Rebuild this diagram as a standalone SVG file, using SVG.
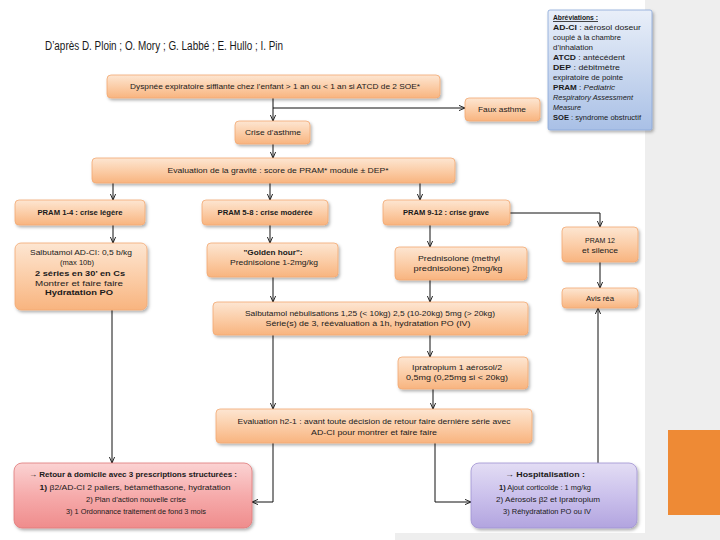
<svg xmlns="http://www.w3.org/2000/svg" width="720" height="540" viewBox="0 0 720 540">
<defs>
<linearGradient id="gO" x1="0" y1="0" x2="0" y2="1"><stop offset="0" stop-color="#fde6d2"/><stop offset="0.55" stop-color="#fbcba4"/><stop offset="1" stop-color="#f8b47f"/></linearGradient>
<linearGradient id="gR" x1="0" y1="0" x2="0" y2="1"><stop offset="0" stop-color="#fbd3d3"/><stop offset="0.5" stop-color="#f6abab"/><stop offset="1" stop-color="#ef8c8c"/></linearGradient>
<linearGradient id="gP" x1="0" y1="0" x2="0" y2="1"><stop offset="0" stop-color="#e3ddf4"/><stop offset="0.5" stop-color="#cbc1ec"/><stop offset="1" stop-color="#b2a4df"/></linearGradient>
<linearGradient id="gB" x1="0" y1="0" x2="0" y2="1"><stop offset="0" stop-color="#e9eff9"/><stop offset="0.5" stop-color="#cad8ef"/><stop offset="1" stop-color="#a9c0e6"/></linearGradient>
<filter id="sh" x="-10%" y="-20%" width="130%" height="150%"><feDropShadow dx="1.5" dy="2" stdDeviation="1.5" flood-color="#000" flood-opacity="0.3"/></filter>
<marker id="ar" viewBox="0 0 6 6" refX="6" refY="3" markerWidth="6" markerHeight="6" markerUnits="userSpaceOnUse" orient="auto"><path d="M0,0.4 L6,3 L0,5.6" fill="none" stroke="#111" stroke-width="0.9"/></marker>
<style>
.bx{fill:url(#gO);stroke:#f3a872;stroke-width:0.8;filter:url(#sh)}
.bxR{fill:url(#gR);stroke:#e07a7a;stroke-width:0.8;filter:url(#sh)}
.bxP{fill:url(#gP);stroke:#9f92d2;stroke-width:0.8;filter:url(#sh)}
.bxB{fill:url(#gB);stroke:#88a6d8;stroke-width:0.8;filter:url(#sh)}
.t{font-family:"Liberation Sans",Arial,sans-serif;font-size:8px;fill:#1a1a1a;text-anchor:middle}
.a{font-family:"Liberation Sans",Arial,sans-serif;font-size:8px;fill:#1a1a1a}
.b{font-weight:bold}
.c{fill:none;stroke:#111;stroke-width:1;marker-end:url(#ar)}
</style>
</defs>
<rect x="0" y="0" width="720" height="540" fill="#ffffff"/>
<rect x="645" y="0" width="75" height="540" fill="#eeeeee"/>
<rect x="395" y="533" width="250" height="7" fill="#eeeeee"/>
<rect x="668" y="430" width="52" height="85" fill="#ee8a35"/>
<text x="45" y="50" font-family="Liberation Sans,Arial,sans-serif" font-size="12" fill="#1a1a1a" textLength="238" lengthAdjust="spacingAndGlyphs">D’après D. Ploin ; O. Mory ; G. Labbé ; E. Hullo ; I. Pin</text>

<g id="connectors">
<path class="c" d="M273,98 V121"/>
<path class="c" d="M273,108 H465"/>
<path class="c" d="M273,144 V158"/>
<path class="c" d="M113,183 V200"/>
<path class="c" d="M270,183 V200"/>
<path class="c" d="M420,183 V200"/>
<path class="c" d="M510,213 H600 V227"/>
<path class="c" d="M600,262 V288"/>
<path class="c" d="M598,463 V308"/>
<path class="c" d="M113,225 V243"/>
<path class="c" d="M270,225 V243"/>
<path class="c" d="M430,225 V247"/>
<path class="c" d="M273,277 V302"/>
<path class="c" d="M430,280 V302"/>
<path class="c" d="M430,335 V357"/>
<path class="c" d="M273,335 V409"/>
<path class="c" d="M433,389 V409"/>
<path class="c" d="M112,310 V463"/>
<path class="c" d="M273,443 V502 H252"/>
<path class="c" d="M435,443 V502 H471"/>
</g>

<g id="abbrev">
<rect class="bxB" x="548" y="10" width="104" height="120" rx="2"/>
<text class="a" x="553" y="20" textLength="45" lengthAdjust="spacingAndGlyphs" text-decoration="underline"><tspan class="b">Abréviations :</tspan></text>
<text class="a" x="553" y="30" textLength="88" lengthAdjust="spacingAndGlyphs"><tspan class="b">AD-CI</tspan> : aérosol doseur</text>
<text class="a" x="553" y="40" textLength="68" lengthAdjust="spacingAndGlyphs">couplé à la chambre</text>
<text class="a" x="553" y="50" textLength="40" lengthAdjust="spacingAndGlyphs">d’inhalation</text>
<text class="a" x="553" y="60" textLength="72" lengthAdjust="spacingAndGlyphs"><tspan class="b">ATCD</tspan> : antécédent</text>
<text class="a" x="553" y="70" textLength="67" lengthAdjust="spacingAndGlyphs"><tspan class="b">DEP</tspan> : débitmètre</text>
<text class="a" x="553" y="80" textLength="70" lengthAdjust="spacingAndGlyphs">expiratoire de pointe</text>
<text class="a" x="553" y="90" textLength="62" lengthAdjust="spacingAndGlyphs"><tspan class="b">PRAM</tspan> : <tspan font-style="italic">Pediatric</tspan></text>
<text class="a" x="553" y="100" textLength="80" lengthAdjust="spacingAndGlyphs" font-style="italic">Respiratory Assessment</text>
<text class="a" x="553" y="110" textLength="28" lengthAdjust="spacingAndGlyphs" font-style="italic">Measure</text>
<text class="a" x="553" y="120" textLength="88" lengthAdjust="spacingAndGlyphs"><tspan class="b">SOE</tspan> : syndrome obstructif</text>
</g>

<g id="n-dyspnee">
<rect class="bx" x="107" y="75" width="333" height="23" rx="4"/>
<text class="t" x="275" y="89" textLength="290" lengthAdjust="spacingAndGlyphs">Dyspnée expiratoire sifflante chez l’enfant &gt; 1 an ou &lt; 1 an si ATCD de 2 SOE*</text>
</g>
<g id="n-faux">
<rect class="bx" x="465" y="98" width="75" height="23" rx="4"/>
<text class="t" x="502" y="112" textLength="48" lengthAdjust="spacingAndGlyphs">Faux asthme</text>
</g>
<g id="n-crise">
<rect class="bx" x="235" y="121" width="75" height="23" rx="4"/>
<text class="t" x="273" y="135" textLength="56" lengthAdjust="spacingAndGlyphs">Crise d’asthme</text>
</g>
<g id="n-eval">
<rect class="bx" x="92" y="158" width="363" height="25" rx="4"/>
<text class="t" x="278" y="173" textLength="221" lengthAdjust="spacingAndGlyphs">Evaluation de la gravité : score de PRAM* modulé ± DEP*</text>
</g>
<g id="n-pram14">
<rect class="bx" x="15" y="200" width="130" height="25" rx="4"/>
<text class="t b" x="80" y="215" textLength="85" lengthAdjust="spacingAndGlyphs">PRAM 1-4 : crise légère</text>
</g>
<g id="n-pram58">
<rect class="bx" x="202" y="200" width="126" height="25" rx="4"/>
<text class="t b" x="265" y="215" textLength="95" lengthAdjust="spacingAndGlyphs">PRAM 5-8 : crise modérée</text>
</g>
<g id="n-pram912">
<rect class="bx" x="383" y="200" width="127" height="25" rx="4"/>
<text class="t b" x="446" y="215" textLength="86" lengthAdjust="spacingAndGlyphs">PRAM 9-12 : crise grave</text>
</g>
<g id="n-pram12">
<rect class="bx" x="562" y="227" width="76" height="35" rx="4"/>
<text class="t" x="600" y="243" textLength="30" lengthAdjust="spacingAndGlyphs">PRAM 12</text>
<text class="t" x="600" y="253" textLength="36" lengthAdjust="spacingAndGlyphs">et silence</text>
</g>
<g id="n-avis">
<rect class="bx" x="562" y="288" width="76" height="20" rx="4"/>
<text class="t" x="600" y="301" textLength="28" lengthAdjust="spacingAndGlyphs">Avis réa</text>
</g>
<g id="n-salbuadci">
<rect class="bx" x="15" y="243" width="132" height="67" rx="6"/>
<text class="t" x="81" y="255" textLength="102" lengthAdjust="spacingAndGlyphs">Salbutamol AD-CI: 0,5 b/kg</text>
<text class="t" x="77" y="265" textLength="34" lengthAdjust="spacingAndGlyphs">(max 10b)</text>
<text class="t b" x="80" y="276" textLength="90" lengthAdjust="spacingAndGlyphs">2 séries en 30’ en Cs</text>
<text class="t" x="79" y="286" textLength="88" lengthAdjust="spacingAndGlyphs">Montrer et faire faire</text>
<text class="t b" x="79" y="295" textLength="68" lengthAdjust="spacingAndGlyphs">Hydratation PO</text>
</g>
<g id="n-golden">
<rect class="bx" x="207" y="243" width="131" height="34" rx="4"/>
<text class="t b" x="273" y="255" textLength="59" lengthAdjust="spacingAndGlyphs">"Golden hour":</text>
<text class="t" x="274" y="265" textLength="88" lengthAdjust="spacingAndGlyphs">Prednisolone 1-2mg/kg</text>
</g>
<g id="n-predni">
<rect class="bx" x="395" y="247" width="132" height="33" rx="4"/>
<text class="t" x="459" y="261" textLength="82" lengthAdjust="spacingAndGlyphs">Prednisolone (methyl</text>
<text class="t" x="458" y="271" textLength="89" lengthAdjust="spacingAndGlyphs">prednisolone) 2mg/kg</text>
</g>
<g id="n-salbuneb">
<rect class="bx" x="213" y="302" width="315" height="33" rx="4"/>
<text class="t" x="370" y="316" textLength="250" lengthAdjust="spacingAndGlyphs">Salbutamol nébulisations 1,25 (&lt; 10kg) 2,5 (10-20kg) 5mg (&gt; 20kg)</text>
<text class="t" x="368" y="326" textLength="205" lengthAdjust="spacingAndGlyphs">Série(s) de 3, réévaluation à 1h, hydratation PO (IV)</text>
</g>
<g id="n-ipra">
<rect class="bx" x="398" y="357" width="130" height="32" rx="4"/>
<text class="t" x="457" y="370" textLength="90" lengthAdjust="spacingAndGlyphs">Ipratropium 1 aérosol/2</text>
<text class="t" x="457" y="380" textLength="102" lengthAdjust="spacingAndGlyphs">0,5mg (0,25mg si &lt; 20kg)</text>
</g>
<g id="n-eval2">
<rect class="bx" x="216" y="409" width="316" height="34" rx="4"/>
<text class="t" x="374" y="424" textLength="273" lengthAdjust="spacingAndGlyphs">Evaluation h2-1 : avant toute décision de retour faire dernière série avec</text>
<text class="t" x="374" y="435" textLength="126" lengthAdjust="spacingAndGlyphs">AD-CI pour montrer et faire faire</text>
</g>
<g id="n-retour">
<rect class="bxR" x="14" y="463" width="238" height="65" rx="8"/>
<text class="t b" x="133" y="477" textLength="208" lengthAdjust="spacingAndGlyphs">→ Retour à domicile avec 3 prescriptions structurées :</text>
<text class="t" x="135" y="490" textLength="191" lengthAdjust="spacingAndGlyphs"><tspan class="b">1)</tspan> β2/AD-CI 2 paliers, bétaméthasone, hydratation</text>
<text class="t" x="136" y="502" textLength="100" lengthAdjust="spacingAndGlyphs">2) Plan d’action nouvelle crise</text>
<text class="t" x="136" y="514" textLength="140" lengthAdjust="spacingAndGlyphs">3) 1 Ordonnance traitement de fond 3 mois</text>
</g>
<g id="n-hosp">
<rect class="bxP" x="471" y="463" width="166" height="65" rx="8"/>
<text class="t b" x="545" y="477" textLength="80" lengthAdjust="spacingAndGlyphs">→ Hospitalisation :</text>
<text class="t" x="545" y="490" textLength="92" lengthAdjust="spacingAndGlyphs"><tspan class="b">1)</tspan> Ajout corticoïde : 1 mg/kg</text>
<text class="t" x="548" y="502" textLength="104" lengthAdjust="spacingAndGlyphs">2) Aérosols β2 et Ipratropium</text>
<text class="t" x="547" y="514" textLength="88" lengthAdjust="spacingAndGlyphs">3) Réhydratation PO ou IV</text>
</g>
</svg>
